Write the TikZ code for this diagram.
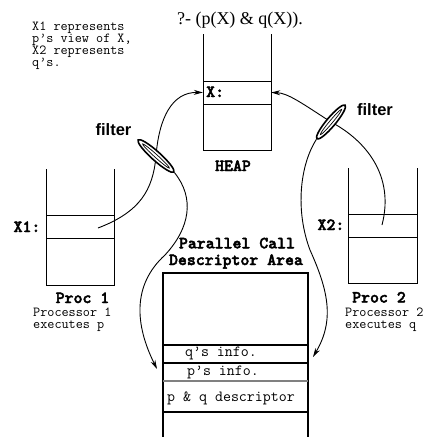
\documentclass[tikz,border=0pt]{standalone}
\usepackage{fontspec}
\setmainfont{Liberation Serif}
\setsansfont{Liberation Sans}
\newfontfamily\ttbold{lmmonolt10-bold.otf}[FakeBold=2.5]
\usetikzlibrary{arrows.meta,shapes.geometric,calc}
\begin{document}
\begin{tikzpicture}[x=1pt,y=1pt,
  thinline/.style={line width=1pt},
  thickline/.style={line width=2.4pt},
  conn/.style={line width=0.9pt},
  arr/.style={conn,-{Stealth[length=9pt,width=5pt]}},
  slot/.style={inner sep=0pt, minimum height=23pt},
  mono/.style={font=\fontsize{13.8}{13.8}\ttfamily, inner sep=0pt, text height=7.5pt, text depth=2pt},
  monoc/.style={font=\fontsize{15.5}{15.5}\ttfamily, inner sep=0pt},
  monob/.style={font=\fontsize{17}{17}\ttbold, inner sep=0pt},
  filt/.style={font=\fontsize{16.5}{16.5}\sffamily\bfseries, inner sep=0pt},
  lens/.style={ellipse, draw, fill=white, line width=1.6pt, inner sep=0pt, minimum height=9pt},
  lensin/.style={ellipse, draw, line width=0.7pt, inner sep=0pt, minimum height=3pt},
]
\useasboundingbox (0,0) rectangle (431,-437);

% query and note
\node[font=\fontsize{18}{18}\selectfont, anchor=base, inner sep=0pt] (query) at (240,-24) {?- (p(X) \& q(X)).};
\node[mono, anchor=base west] (n1) at (32,-30) {X1 represents};
\node[mono, anchor=base west] (n2) at (32,-42) {p’s view of X,};
\node[mono, anchor=base west] (n3) at (32,-54) {X2 represents};
\node[mono, anchor=base west] (n4) at (32,-66) {q’s.};

% heap
\draw[thinline] (203,-34) -- (203,-150) -- (271,-150) -- (271,-34);
\draw[thinline] (203,-81) -- (271,-81) (203,-104) -- (271,-104);
\node[slot, minimum width=68pt] (hx) at (237,-92.5) {};
\node[monob, anchor=base west] (hxl) at (206,-97) {X:};
\node[monob, anchor=base] (heap) at (233,-171) {HEAP};

% proc 1
\draw[thinline] (46,-169) -- (46,-285) -- (114,-285) -- (114,-169);
\draw[thinline] (46,-215) -- (114,-215) (46,-238) -- (114,-238);
\node[slot, minimum width=68pt] (x1) at (80,-226.5) {};
\node[monob, anchor=base] (x1l) at (27,-232) {X1:};
\node[monob, anchor=base] (p1) at (82.5,-303) {Proc 1};
\node[mono, anchor=base west] (p1a) at (33,-316.5) {Processor 1};
\node[mono, anchor=base west] (p1b) at (33,-328.5) {executes p};

% proc 2
\draw[thinline] (348,-168) -- (348,-283) -- (417,-283) -- (417,-168);
\draw[thinline] (348,-214) -- (417,-214) (348,-237) -- (417,-237);
\node[slot, minimum width=69pt] (x2) at (382.5,-225.5) {};
\node[monob, anchor=base] (x2l) at (331,-230) {X2:};
\node[monob, anchor=base] (p2) at (379,-302.5) {Proc 2};
\node[mono, anchor=base west] (p2a) at (345,-316) {Processor 2};
\node[mono, anchor=base west] (p2b) at (345,-328) {executes q};

% parallel call descriptor area
\node[monob, anchor=base] (pc1) at (237,-248.3) {Parallel Call};
\node[monob, anchor=base] (pc2) at (236,-265) {Descriptor Area};
\draw[line width=1.2pt] (163,-437) -- (163,-273) -- (308,-273) -- (308,-437);
\draw[thickline] (163,-345) rectangle (308,-412);
\draw[thickline] (163,-363) -- (308,-363);
\draw[gray, line width=1.5pt] (163,-381) -- (308,-381);
\node[monoc, anchor=base] (qinfo) at (221,-356) {q’s info.};
\node[monoc, anchor=base] (pinfo) at (223,-375) {p’s info.};
\node[monoc, anchor=base] (desc) at (231,-401.5) {p \& q descriptor};

% end points
\coordinate (x1p) at (98,-228);
\coordinate (x2p) at (382,-225);
\coordinate (pin) at (157,-369);
\coordinate (qin) at (313,-357);

% filter positions
\coordinate (f1c) at (156,-156);
\coordinate (f2c) at (331,-122);
\node[lens, minimum width=48pt, rotate=-42, draw=none, fill=none] (f1) at (f1c) {};
\node[lens, minimum width=44pt, rotate=50, draw=none, fill=none] (f2) at (f2c) {};

% connectors
\draw[arr] (x1p) .. controls (140,-212) and (153,-190) .. (f1.center)
  .. controls (159,-118) and (172,-92) .. (hx.west);
\draw[arr] (f1.east) .. controls (195,-198) and (190,-228) .. (165,-255)
  .. controls (132,-285) and (135,-325) .. (pin);
\draw[arr] (x2p) .. controls (395,-175) and (365,-140) .. (f2.center)
  .. controls (303,-104) and (288,-93) .. (hx.east);
\draw[arr] (f2.west) .. controls (300,-165) and (295,-210) .. (310,-250)
  .. controls (328,-290) and (335,-320) .. (qin);

% filters drawn on top
\node[lens, minimum width=48pt, rotate=-42] (f1d) at (f1c) {};
\node[lensin, minimum width=36pt, rotate=-42] (f1i) at (f1c) {};
\node[lens, minimum width=44pt, rotate=50] (f2d) at (f2c) {};
\node[lensin, minimum width=33pt, rotate=50] (f2i) at (f2c) {};
\node[filt, anchor=base] (fl1) at (113.5,-135) {filter};
\node[filt, anchor=base] (fl2) at (375,-115) {filter};
\end{tikzpicture}
\end{document}
